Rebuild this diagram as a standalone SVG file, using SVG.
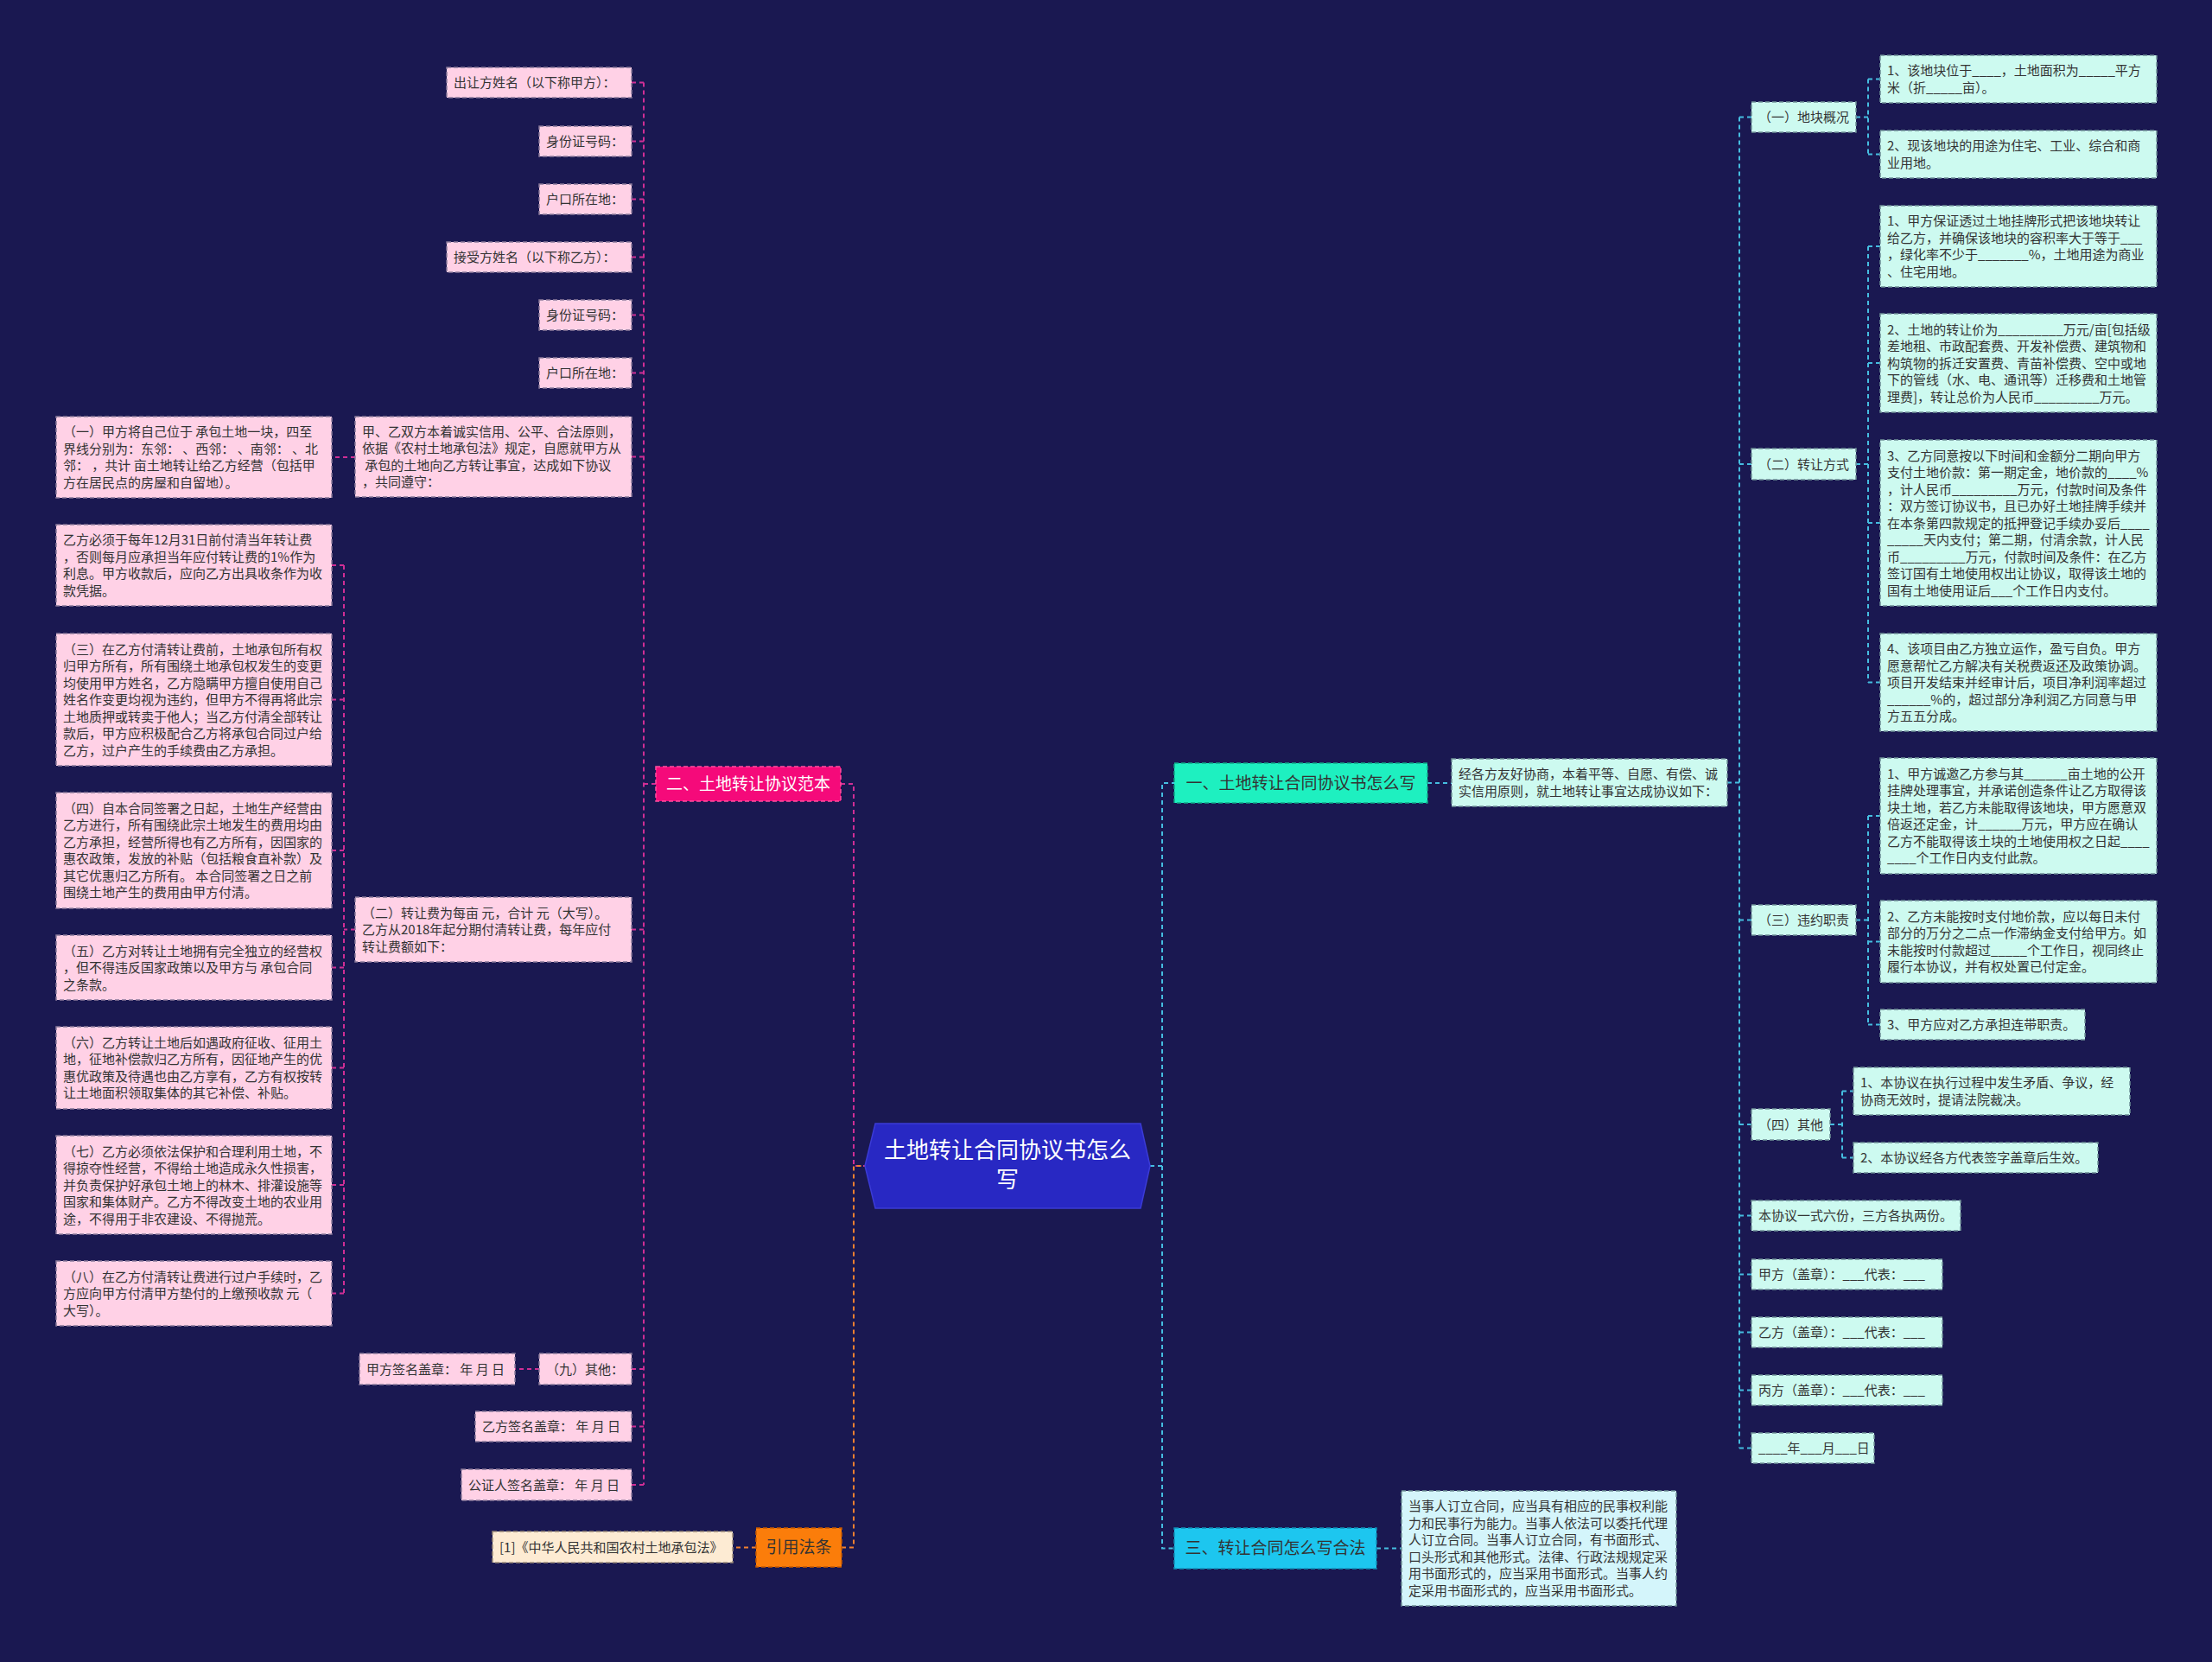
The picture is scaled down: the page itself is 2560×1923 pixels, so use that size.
<svg xmlns="http://www.w3.org/2000/svg" width="2560" height="1923" viewBox="0 0 2560 1923">
<style>
text{font-family:"Noto Sans CJK SC","Microsoft YaHei",sans-serif;font-size:15px;fill:#333}
.pk rect{fill:#ffd1e6;stroke:#8a7a9a;stroke-width:1.5;stroke-dasharray:5 3}
.cy rect{fill:#cdfaf0;stroke:#6f9096;stroke-width:1.5;stroke-dasharray:5 3}
.cb rect{fill:#d4f5fb;stroke:#6f9096;stroke-width:1.5;stroke-dasharray:5 3}
.pe rect{fill:#fdebd3;stroke:#9a8a7a;stroke-width:1.5;stroke-dasharray:5 3}
.br text{font-size:19px;text-anchor:middle}
.lm{fill:none;stroke:#cf2e95;stroke-width:2;stroke-dasharray:5 4}
.lo{fill:none;stroke:#f08030;stroke-width:2;stroke-dasharray:5 4}
.lc{fill:none;stroke:#45bde0;stroke-width:2;stroke-dasharray:5 4}
</style>
<rect width="2560" height="1923" fill="#1a1851"/>

<g id="connectors">
<path class="lm" d="M973 907H988V1349H1001"/>
<path class="lm" d="M759 907H745M745 95.5V1718"/>
<path class="lm" d="M745 95.5H731M745 163.5H731M745 230.5H731M745 297.5H731M745 364.5H731M745 431.5H731M745 528.5H731M745 1075.5H731M745 1584H731M745 1650.5H731M745 1718H731"/>
<path class="lm" d="M411 1075.5H398M398 654V1496.5M398 654H384M398 809.5H384M398 984H384M398 1119.5H384M398 1235.5H384M398 1371H384M398 1496.5H384"/>
<path class="lm" d="M411 529H384M624 1584H596"/>
<path class="lo" d="M974 1790.5H988V1349H1001M875 1790.5H848"/>
<path class="lc" d="M1331 1349H1345V906H1359M1345 1349V1791.5H1359"/>
<path class="lc" d="M1652 906H1680M1593 1791.5H1622"/>
<path class="lc" d="M1999 905.5H2013M2013 135.5V1675.5M2013 135.5H2027M2013 537H2027M2013 1064.5H2027M2013 1301H2027M2013 1406.5H2027M2013 1474.5H2027M2013 1541.5H2027M2013 1608.5H2027M2013 1675.5H2027"/>
<path class="lc" d="M2148 135.5H2162M2162 91.5V178.5M2162 91.5H2176M2162 178.5H2176"/>
<path class="lc" d="M2148 537H2162M2162 285V789.5M2162 285H2176M2162 420H2176M2162 605H2176M2162 789.5H2176"/>
<path class="lc" d="M2148 1064.5H2162M2162 944V1185.5M2162 944H2176M2162 1089.5H2176M2162 1185.5H2176"/>
<path class="lc" d="M2118 1301H2132M2132 1262.5V1339.5M2132 1262.5H2145M2132 1339.5H2145"/>
</g>

<g id="root">
<polygon points="1001,1349 1013,1300 1320,1300 1331,1349 1320,1398 1013,1398" fill="#2828c3" stroke="#3b3bd6" stroke-width="1.5"/>
<text x="1166" y="1340" text-anchor="middle" style="font-size:26px;fill:#fff">土地转让合同协议书怎么</text>
<text x="1166" y="1374" text-anchor="middle" style="font-size:26px;fill:#fff">写</text>
</g>

<g id="branch2" class="br">
<rect x="759" y="887" width="214" height="40" fill="#f50a7a" stroke="#ff4fa0" stroke-width="1.5" stroke-dasharray="5 3"/>
<text x="866" y="914" style="fill:#fff">二、土地转让协议范本</text>
</g>
<g id="branch1" class="br">
<rect x="1359" y="883" width="293" height="46" fill="#1ef0c0" stroke="#10a888" stroke-width="1.5" stroke-dasharray="5 3"/>
<text x="1505.5" y="913">一、土地转让合同协议书怎么写</text>
</g>
<g id="branch3" class="br">
<rect x="1359" y="1768" width="234" height="47" fill="#1dc6ef" stroke="#1090b8" stroke-width="1.5" stroke-dasharray="5 3"/>
<text x="1476" y="1798">三、转让合同怎么写合法</text>
</g>
<g id="branch4" class="br">
<rect x="875" y="1768" width="99" height="45" fill="#fb7d0a" stroke="#c85a00" stroke-width="1.5" stroke-dasharray="5 3"/>
<text x="924.5" y="1797">引用法条</text>
</g>

<g id="a1" class="pk"><rect x="517" y="78" width="214" height="35"/><text x="525" y="101">出让方姓名（以下称甲方）：</text></g>
<g id="a2" class="pk"><rect x="624" y="146" width="107" height="35"/><text x="632" y="169">身份证号码：</text></g>
<g id="a3" class="pk"><rect x="624" y="213" width="107" height="35"/><text x="632" y="236">户口所在地：</text></g>
<g id="a4" class="pk"><rect x="517" y="280" width="214" height="35"/><text x="525" y="303">接受方姓名（以下称乙方）：</text></g>
<g id="a5" class="pk"><rect x="624" y="347" width="107" height="35"/><text x="632" y="370">身份证号码：</text></g>
<g id="a6" class="pk"><rect x="624" y="414" width="107" height="35"/><text x="632" y="437">户口所在地：</text></g>
<g id="a7" class="pk"><rect x="411" y="482" width="320" height="93"/>
<text><tspan x="419" y="504.8">甲、乙双方本着诚实信用、公平、合法原则，</tspan><tspan x="419" y="524.3">依据《农村土地承包法》规定，自愿就甲方从</tspan><tspan x="419" y="543.8"> 承包的土地向乙方转让事宜，达成如下协议</tspan><tspan x="419" y="563.3">，共同遵守：</tspan></text></g>
<g id="a8" class="pk"><rect x="411" y="1038" width="320" height="75"/>
<text><tspan x="419" y="1061.5">（二）转让费为每亩 元，合计 元（大写）。</tspan><tspan x="419" y="1081">乙方从2018年起分期付清转让费，每年应付</tspan><tspan x="419" y="1100.5">转让费额如下：</tspan></text></g>
<g id="a9" class="pk"><rect x="624" y="1566" width="107" height="36"/><text x="632" y="1589.5">（九）其他：</text></g>
<g id="a10" class="pk"><rect x="550" y="1633" width="181" height="35"/><text x="558" y="1656">乙方签名盖章： 年 月 日</text></g>
<g id="a11" class="pk"><rect x="534" y="1700" width="197" height="36"/><text x="542" y="1723.5">公证人签名盖章： 年 月 日</text></g>
<g id="a12" class="pk"><rect x="416" y="1566" width="180" height="36"/><text x="424" y="1589.5">甲方签名盖章： 年 月 日</text></g>

<g id="l1" class="pk"><rect x="65" y="482" width="319" height="94"/>
<text><tspan x="73" y="505.3">（一）甲方将自己位于 承包土地一块，四至</tspan><tspan x="73" y="524.8">界线分别为：东邻： 、西邻： 、南邻： 、北</tspan><tspan x="73" y="544.3">邻： ，共计 亩土地转让给乙方经营（包括甲</tspan><tspan x="73" y="563.8">方在居民点的房屋和自留地）。</tspan></text></g>
<g id="l2" class="pk"><rect x="65" y="607" width="319" height="94"/>
<text><tspan x="73" y="630.3">乙方必须于每年12月31日前付清当年转让费</tspan><tspan x="73" y="649.8">，否则每月应承担当年应付转让费的1%作为</tspan><tspan x="73" y="669.3">利息。甲方收款后，应向乙方出具收条作为收</tspan><tspan x="73" y="688.8">款凭据。</tspan></text></g>
<g id="l3" class="pk"><rect x="65" y="733" width="319" height="153"/>
<text><tspan x="73" y="756.5">（三）在乙方付清转让费前，土地承包所有权</tspan><tspan x="73" y="776">归甲方所有，所有围绕土地承包权发生的变更</tspan><tspan x="73" y="795.5">均使用甲方姓名，乙方隐瞒甲方擅自使用自己</tspan><tspan x="73" y="815">姓名作变更均视为违约，但甲方不得再将此宗</tspan><tspan x="73" y="834.5">土地质押或转卖于他人；当乙方付清全部转让</tspan><tspan x="73" y="854">款后，甲方应积极配合乙方将承包合同过户给</tspan><tspan x="73" y="873.5">乙方，过户产生的手续费由乙方承担。</tspan></text></g>
<g id="l4" class="pk"><rect x="65" y="917" width="319" height="134"/>
<text><tspan x="73" y="940.8">（四）自本合同签署之日起，土地生产经营由</tspan><tspan x="73" y="960.3">乙方进行，所有围绕此宗土地发生的费用均由</tspan><tspan x="73" y="979.8">乙方承担，经营所得也有乙方所有，因国家的</tspan><tspan x="73" y="999.3">惠农政策，发放的补贴（包括粮食直补款）及</tspan><tspan x="73" y="1018.8">其它优惠归乙方所有。 本合同签署之日之前</tspan><tspan x="73" y="1038.3">围绕土地产生的费用由甲方付清。</tspan></text></g>
<g id="l5" class="pk"><rect x="65" y="1082" width="319" height="75"/>
<text><tspan x="73" y="1105.5">（五）乙方对转让土地拥有完全独立的经营权</tspan><tspan x="73" y="1125">，但不得违反国家政策以及甲方与 承包合同</tspan><tspan x="73" y="1144.5">之条款。</tspan></text></g>
<g id="l6" class="pk"><rect x="65" y="1188" width="319" height="95"/>
<text><tspan x="73" y="1211.8">（六）乙方转让土地后如遇政府征收、征用土</tspan><tspan x="73" y="1231.3">地，征地补偿款归乙方所有，因征地产生的优</tspan><tspan x="73" y="1250.8">惠优政策及待遇也由乙方享有，乙方有权按转</tspan><tspan x="73" y="1270.3">让土地面积领取集体的其它补偿、补贴。</tspan></text></g>
<g id="l7" class="pk"><rect x="65" y="1314" width="319" height="114"/>
<text><tspan x="73" y="1337.5">（七）乙方必须依法保护和合理利用土地，不</tspan><tspan x="73" y="1357">得掠夺性经营，不得给土地造成永久性损害，</tspan><tspan x="73" y="1376.5">并负责保护好承包土地上的林木、排灌设施等</tspan><tspan x="73" y="1396">国家和集体财产。乙方不得改变土地的农业用</tspan><tspan x="73" y="1415.5">途，不得用于非农建设、不得抛荒。</tspan></text></g>
<g id="l8" class="pk"><rect x="65" y="1459" width="319" height="75"/>
<text><tspan x="73" y="1482.5">（八）在乙方付清转让费进行过户手续时，乙</tspan><tspan x="73" y="1502">方应向甲方付清甲方垫付的上缴预收款 元（</tspan><tspan x="73" y="1521.5">大写）。</tspan></text></g>

<g id="law" class="pe"><rect x="570" y="1772" width="278" height="36"/><text x="578" y="1795.5">[1]《中华人民共和国农村土地承包法》</text></g>

<g id="b0" class="cy"><rect x="1680" y="878" width="319" height="55"/>
<text><tspan x="1688" y="901.3">经各方友好协商，本着平等、自愿、有偿、诚</tspan><tspan x="1688" y="920.8">实信用原则，就土地转让事宜达成协议如下：</tspan></text></g>
<g id="c1" class="cy"><rect x="2027" y="118" width="121" height="35"/><text x="2035" y="141">（一）地块概况</text></g>
<g id="c2" class="cy"><rect x="2027" y="519" width="121" height="36"/><text x="2035" y="542.5">（二）转让方式</text></g>
<g id="c3" class="cy"><rect x="2027" y="1047" width="121" height="35"/><text x="2035" y="1070">（三）违约职责</text></g>
<g id="c4" class="cy"><rect x="2027" y="1283" width="91" height="36"/><text x="2035" y="1306.5">（四）其他</text></g>
<g id="c5" class="cy"><rect x="2027" y="1389" width="242" height="35"/><text x="2035" y="1412">本协议一式六份，三方各执两份。</text></g>
<g id="c6" class="cy"><rect x="2027" y="1457" width="221" height="35"/><text x="2035" y="1480">甲方（盖章）：___代表：___</text></g>
<g id="c7" class="cy"><rect x="2027" y="1524" width="221" height="35"/><text x="2035" y="1547">乙方（盖章）：___代表：___</text></g>
<g id="c8" class="cy"><rect x="2027" y="1591" width="221" height="35"/><text x="2035" y="1614">丙方（盖章）：___代表：___</text></g>
<g id="c9" class="cy"><rect x="2027" y="1658" width="142" height="35"/><text x="2035" y="1681">____年___月___日</text></g>

<g id="d1" class="cy"><rect x="2176" y="64" width="320" height="55"/>
<text><tspan x="2184" y="87.3">1、该地块位于____，土地面积为_____平方</tspan><tspan x="2184" y="106.8">米（折_____亩）。</tspan></text></g>
<g id="d2" class="cy"><rect x="2176" y="151" width="320" height="55"/>
<text><tspan x="2184" y="174.3">2、现该地块的用途为住宅、工业、综合和商</tspan><tspan x="2184" y="193.8">业用地。</tspan></text></g>
<g id="d3" class="cy"><rect x="2176" y="238" width="320" height="94"/>
<text><tspan x="2184" y="261.3">1、甲方保证透过土地挂牌形式把该地块转让</tspan><tspan x="2184" y="280.8">给乙方，并确保该地块的容积率大于等于___</tspan><tspan x="2184" y="300.3">，绿化率不少于_______%，土地用途为商业</tspan><tspan x="2184" y="319.8">、住宅用地。</tspan></text></g>
<g id="d4" class="cy"><rect x="2176" y="363" width="320" height="114"/>
<text><tspan x="2184" y="386.5">2、土地的转让价为_________万元/亩[包括级</tspan><tspan x="2184" y="406">差地租、市政配套费、开发补偿费、建筑物和</tspan><tspan x="2184" y="425.5">构筑物的拆迁安置费、青苗补偿费、空中或地</tspan><tspan x="2184" y="445">下的管线（水、电、通讯等）迁移费和土地管</tspan><tspan x="2184" y="464.5">理费]，转让总价为人民币_________万元。</tspan></text></g>
<g id="d5" class="cy"><rect x="2176" y="509" width="320" height="192"/>
<text><tspan x="2184" y="532.5">3、乙方同意按以下时间和金额分二期向甲方</tspan><tspan x="2184" y="552">支付土地价款：第一期定金，地价款的____%</tspan><tspan x="2184" y="571.5">，计人民币_________万元，付款时间及条件</tspan><tspan x="2184" y="591">：双方签订协议书，且已办好土地挂牌手续并</tspan><tspan x="2184" y="610.5">在本条第四款规定的抵押登记手续办妥后____</tspan><tspan x="2184" y="630">_____天内支付；第二期，付清余款，计人民</tspan><tspan x="2184" y="649.5">币_________万元，付款时间及条件：在乙方</tspan><tspan x="2184" y="669">签订国有土地使用权出让协议，取得该土地的</tspan><tspan x="2184" y="688.5">国有土地使用证后___个工作日内支付。</tspan></text></g>
<g id="d6" class="cy"><rect x="2176" y="733" width="320" height="113"/>
<text><tspan x="2184" y="756">4、该项目由乙方独立运作，盈亏自负。甲方</tspan><tspan x="2184" y="775.5">愿意帮忙乙方解决有关税费返还及政策协调。</tspan><tspan x="2184" y="795">项目开发结束并经审计后，项目净利润率超过</tspan><tspan x="2184" y="814.5">______%的，超过部分净利润乙方同意与甲</tspan><tspan x="2184" y="834">方五五分成。</tspan></text></g>
<g id="d7" class="cy"><rect x="2176" y="877" width="320" height="134"/>
<text><tspan x="2184" y="900.8">1、甲方诚邀乙方参与其______亩土地的公开</tspan><tspan x="2184" y="920.3">挂牌处理事宜，并承诺创造条件让乙方取得该</tspan><tspan x="2184" y="939.8">块土地，若乙方未能取得该地块，甲方愿意双</tspan><tspan x="2184" y="959.3">倍返还定金，计______万元，甲方应在确认</tspan><tspan x="2184" y="978.8">乙方不能取得该土块的土地使用权之日起____</tspan><tspan x="2184" y="998.3">____个工作日内支付此款。</tspan></text></g>
<g id="d8" class="cy"><rect x="2176" y="1042" width="320" height="95"/>
<text><tspan x="2184" y="1065.8">2、乙方未能按时支付地价款，应以每日未付</tspan><tspan x="2184" y="1085.3">部分的万分之二点一作滞纳金支付给甲方。如</tspan><tspan x="2184" y="1104.8">未能按时付款超过_____个工作日，视同终止</tspan><tspan x="2184" y="1124.3">履行本协议，并有权处置已付定金。</tspan></text></g>
<g id="d9" class="cy"><rect x="2176" y="1168" width="237" height="35"/><text x="2184" y="1191">3、甲方应对乙方承担连带职责。</text></g>
<g id="d10" class="cy"><rect x="2145" y="1235" width="320" height="55"/>
<text><tspan x="2153" y="1258.3">1、本协议在执行过程中发生矛盾、争议，经</tspan><tspan x="2153" y="1277.8">协商无效时，提请法院裁决。</tspan></text></g>
<g id="d11" class="cy"><rect x="2145" y="1322" width="283" height="35"/><text x="2153" y="1345">2、本协议经各方代表签字盖章后生效。</text></g>

<g id="e1" class="cb"><rect x="1622" y="1725" width="318" height="133"/>
<text><tspan x="1630" y="1748.3">当事人订立合同，应当具有相应的民事权利能</tspan><tspan x="1630" y="1767.8">力和民事行为能力。当事人依法可以委托代理</tspan><tspan x="1630" y="1787.3">人订立合同。当事人订立合同，有书面形式、</tspan><tspan x="1630" y="1806.8">口头形式和其他形式。法律、行政法规规定采</tspan><tspan x="1630" y="1826.3">用书面形式的，应当采用书面形式。当事人约</tspan><tspan x="1630" y="1845.8">定采用书面形式的，应当采用书面形式。</tspan></text></g>
</svg>
